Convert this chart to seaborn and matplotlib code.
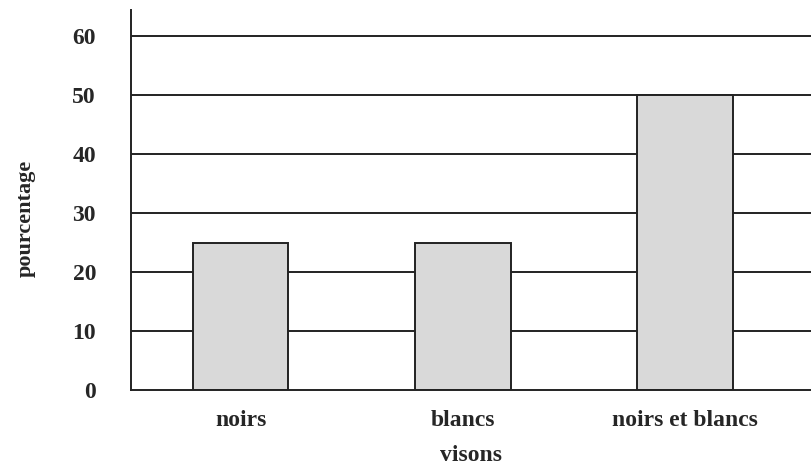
import pandas as pd
import matplotlib
matplotlib.use("Agg")
import matplotlib.pyplot as plt
import seaborn as sns

categories = ["noirs", "blancs", "noirs et blancs"]
values = [25, 25, 50]
yticks = [0, 10, 20, 30, 40, 50, 60]

df = pd.DataFrame({"visons": categories, "pourcentage": values})

sns.set_style("white")
plt.rcParams["font.family"] = ["Liberation Serif", "DejaVu Serif"]
plt.rcParams["font.weight"] = "bold"

fig = plt.figure(figsize=(8.12, 4.69), dpi=100)
ax = fig.add_axes([0.161, 0.168, 0.839, 0.811])

for y in yticks[1:]:
    ax.axhline(y, color="#222222", lw=1.4, zorder=0)

sns.barplot(data=df, x="visons", y="pourcentage", color="#d9d9d9",
            edgecolor="#222222", linewidth=1.4, width=0.43, saturation=1, ax=ax, zorder=2)

ax.set_xlim(-0.495, 2.572)
ax.set_ylim(0, 64.4)
ax.set_yticks(yticks)
ax.tick_params(axis="y", direction="out", length=11, width=1.4, color="#222222",
               labelsize=17, pad=14)
ax.tick_params(axis="x", length=0, labelsize=17, pad=14)
for lbl in ax.get_xticklabels() + ax.get_yticklabels():
    lbl.set_fontweight("bold")

for s in ["top", "right"]:
    ax.spines[s].set_visible(False)
ax.spines["left"].set_color("#222222")
ax.spines["left"].set_linewidth(1.4)
ax.spines["bottom"].set_color("#222222")
ax.spines["bottom"].set_linewidth(1.4)

ax.set_xlabel("visons", fontsize=17, fontweight="bold")
ax.xaxis.set_label_coords(0.5, -0.172, transform=ax.transAxes)
ax.xaxis.label.set_va("center")
ax.set_ylabel("pourcentage", fontsize=16, fontweight="bold", labelpad=28)
ax.yaxis.set_label_coords(-0.14, 0.453)

fig.savefig("out.png", dpi=100)
